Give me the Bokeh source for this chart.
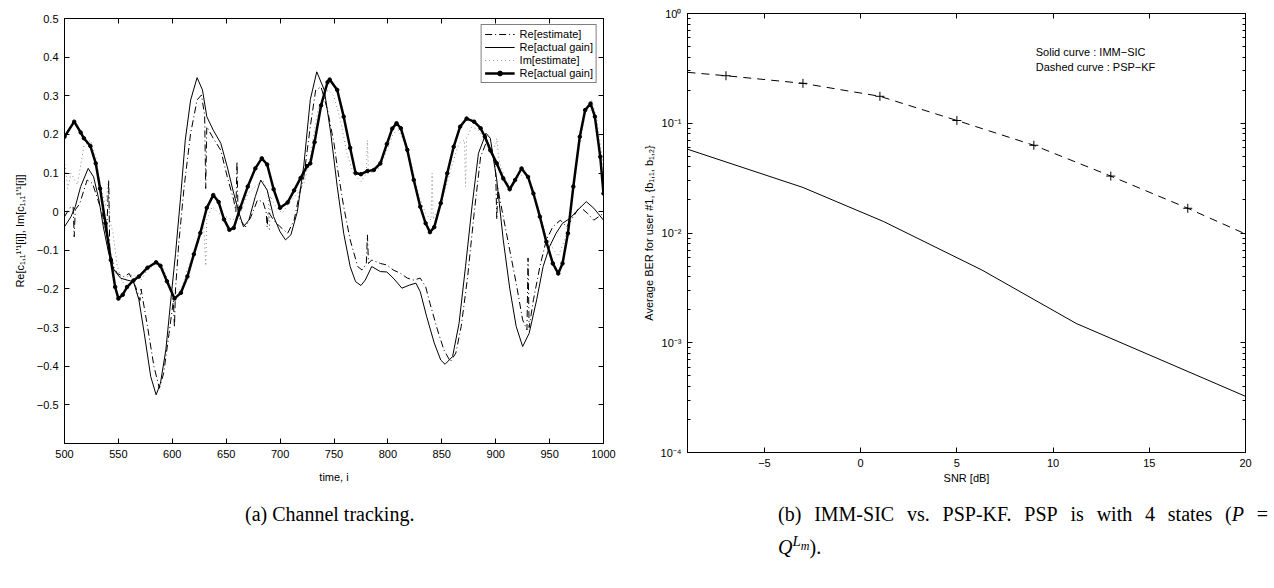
from bokeh.plotting import figure
from bokeh.models import (Range1d, FixedTicker, LinearAxis, LogAxis, CustomJSTickFormatter,
                          Legend, LegendItem, Label, Div)
from bokeh.layouts import row, column
from bokeh.embed import file_html
from bokeh.resources import INLINE

FONT = "Liberation Sans"

# ---------------- data: (a) channel tracking ----------------
re_estimate = [(500,-0.013),(505,0.01),(508,0.013),(509,-0.065),(510,0.005),(514,0.02),(521,0.082),(526,0.073),
    (530,0.039),(535,-0.004),(539,-0.06),(541,0.08),(542,-0.1),(546,-0.145),(549,-0.16),(555,-0.168),(560,-0.16),
    (566,-0.194),(570,-0.23),(571,-0.2),(577,-0.297),(583,-0.401),(588,-0.457),(592,-0.418),(597,-0.315),(601,-0.23),
    (602,-0.3),(603,-0.2),(606,-0.082),(611,0.065),(617,0.203),(623,0.289),(627,0.302),(630,0.25),(631,0.06),(632,0.22),
    (638,0.19),(645,0.159),(651,0.09),(657,0.03),(659,0.0),(660,0.13),(661,0.0),(663,-0.022),(668,-0.039),(673,-0.013),
    (679,0.03),(684,0.026),(687,0.0),(688,-0.04),(689,0.0),(694,-0.022),(700,-0.039),(707,-0.056),(713,-0.022),
    (718,0.047),(722,0.09),(728,0.22),(733,0.315),(738,0.323),(744,0.263),(750,0.177),(753,0.116),(759,0.013),
    (765,-0.073),(772,-0.142),(776,-0.151),(780,-0.134),(781,-0.06),(782,-0.134),(785,-0.125),(793,-0.134),
    (799,-0.138),(805,-0.151),(812,-0.16),(818,-0.172),(824,-0.177),(830,-0.172),(835,-0.194),(839,-0.237),
    (846,-0.306),(852,-0.358),(858,-0.388),(863,-0.366),(868,-0.297),(874,-0.168),(880,-0.004),(886,0.142),
    (892,0.185),(898,0.142),(900,0.1),(901,-0.02),(902,0.06),(907,-0.013),(913,-0.099),(919,-0.185),(925,-0.28),
    (929,-0.306),(930,-0.12),(931,-0.3),(935,-0.228),(941,-0.142),(947,-0.073),(953,-0.039),(960,-0.022),
    (966,-0.039),(972,-0.013),(978,0.013),(985,-0.004),(991,-0.022),(1000,-0.004)]

re_actual = [(500,-0.039),(506,-0.013),(510,0.013),(515,0.065),(522,0.112),(527,0.09),(532,0.03),(536,-0.039),
    (541,-0.108),(546,-0.151),(552,-0.172),(558,-0.177),(564,-0.181),(569,-0.228),(574,-0.315),(580,-0.427),
    (585,-0.474),(589,-0.444),(594,-0.358),(598,-0.246),(603,-0.108),(608,0.047),(612,0.185),(617,0.289),
    (623,0.347),(628,0.315),(632,0.246),(638,0.211),(645,0.177),(651,0.116),(657,0.047),(662,-0.004),(666,-0.039),
    (671,-0.022),(677,0.039),(682,0.082),(688,0.056),(694,-0.013),(700,-0.052),(705,-0.073),(710,-0.06),(716,0.0),
    (722,0.12),(728,0.29),(734,0.362),(741,0.315),(747,0.203),(753,0.065),(759,-0.056),(765,-0.142),(770,-0.181),
    (775,-0.191),(779,-0.177),(785,-0.142),(793,-0.155),(799,-0.156),(805,-0.172),(813,-0.198),(820,-0.19),
    (826,-0.185),(830,-0.207),(836,-0.272),(843,-0.34),(849,-0.384),(853,-0.395),(860,-0.375),(866,-0.289),
    (872,-0.142),(878,0.013),(884,0.151),(891,0.203),(895,0.19),(901,0.082),(907,-0.073),(913,-0.198),
    (919,-0.297),(925,-0.349),(931,-0.315),(938,-0.228),(944,-0.142),(950,-0.09),(956,-0.056),(962,-0.03),
    (969,-0.017),(976,0.004),(984,0.026),(991,0.009),(1000,-0.022)]

im_estimate = [(500,0.134),(503,0.06),(506,0.1),(512,0.07),(518,0.17),(524,0.185),(529,0.142),(533,0.073),
    (538,0.013),(541,0.085),(542,-0.02),(545,-0.056),(549,-0.142),(554,-0.185),(558,-0.168),(564,-0.163),
    (571,-0.177),(577,-0.151),(585,-0.134),(591,-0.142),(597,-0.185),(603,-0.211),(609,-0.194),(615,-0.142),
    (623,-0.09),(629,-0.03),(631,-0.14),(632,-0.02),(637,0.013),(643,-0.004),(650,-0.013),(656,-0.022),
    (663,-0.004),(670,0.047),(677,0.065),(684,0.082),(689,0.047),(690,-0.05),(691,0.04),(696,0.013),(702,-0.004),
    (708,0.022),(716,0.047),(722,0.073),(728,0.142),(735,0.263),(741,0.306),(745,0.315),(750,0.298),(756,0.237),
    (762,0.151),(768,0.099),(775,0.078),(780,0.099),(781,0.185),(782,0.099),(787,0.103),(793,0.116),(799,0.159),
    (805,0.203),(810,0.211),(817,0.168),(823,0.108),(829,0.039),(835,-0.004),(840,-0.022),(841,0.1),(842,-0.02),
    (848,0.013),(854,0.065),(860,0.125),(866,0.177),(871,0.185),(872,0.065),(873,0.19),(878,0.22),(884,0.211),
    (891,0.185),(897,0.168),(900,0.17),(901,0.19),(903,0.134),(909,0.082),(915,0.065),(921,0.09),(927,0.099),
    (934,0.065),(940,0.004),(946,-0.056),(952,-0.09),(958,-0.116),(964,-0.073),(971,0.03),(977,0.159),
    (983,0.254),(989,0.289),(994,0.237),(1000,0.116)]

im_actual = [(500,0.194),(509,0.233),(515,0.205),(518,0.19),(524,0.17),(529,0.125),(533,0.06),(538,-0.03),
    (543,-0.125),(547,-0.195),(550,-0.225),(554,-0.215),(558,-0.195),(564,-0.178),(569,-0.168),(577,-0.145),
    (585,-0.131),(589,-0.14),(595,-0.18),(602,-0.225),(608,-0.21),(614,-0.168),(620,-0.11),(626,-0.055),
    (632,0.01),(638,0.043),(643,0.025),(648,-0.02),(653,-0.047),(657,-0.042),(663,0.01),(670,0.065),(677,0.112),
    (683,0.138),(688,0.122),(694,0.058),(700,0.01),(707,0.024),(713,0.055),(719,0.087),(725,0.118),(728,0.125),
    (732,0.18),(738,0.275),(744,0.335),(746,0.342),(753,0.315),(759,0.246),(765,0.165),(770,0.1),(775,0.097),
    (781,0.105),(787,0.108),(793,0.125),(799,0.175),(804,0.215),(808,0.229),(812,0.216),(818,0.16),(824,0.082),
    (830,0.013),(835,-0.03),(839,-0.053),(843,-0.04),(849,0.022),(855,0.099),(861,0.168),(867,0.22),(873,0.241),
    (880,0.233),(886,0.216),(890,0.194),(895,0.159),(901,0.125),(907,0.086),(913,0.058),(918,0.082),(924,0.112),
    (930,0.09),(935,0.047),(941,-0.013),(947,-0.078),(953,-0.134),(958,-0.16),(962,-0.134),(967,-0.056),
    (972,0.065),(978,0.194),(983,0.263),(988,0.28),(992,0.246),(997,0.142),(1000,0.047)]

a_xticks = [500, 550, 600, 650, 700, 750, 800, 850, 900, 950, 1000]
a_yticks = [-0.5, -0.4, -0.3, -0.2, -0.1, 0.0, 0.1, 0.2, 0.3, 0.4, 0.5]

# ---------------- data: (b) BER vs SNR ----------------
psp_snr = [-9, -7, -3, 1, 5, 9, 13, 17, 20]
psp_ber = [0.291, 0.271, 0.231, 0.176, 0.106, 0.063, 0.033, 0.0168, 0.0098]
psp_mark_snr = [-7, -3, 1, 5, 9, 13, 17]
psp_mark_ber = [0.271, 0.231, 0.176, 0.106, 0.063, 0.033, 0.0168]
imm_snr = [-9, -3, 1.2, 6.3, 11.2, 20]
imm_ber = [0.058, 0.026, 0.0127, 0.0046, 0.0015, 0.000325]
b_xticks = [-5, 0, 5, 10, 15, 20]
b_yticks = [1e-4, 1e-3, 1e-2, 1e-1, 1e0]
b_yminor = [m * d for d in [1e-4, 1e-3, 1e-2, 1e-1] for m in range(2, 10)]


def unzip(pairs):
    return [p[0] for p in pairs], [p[1] for p in pairs]


blank_fmt = CustomJSTickFormatter(code='return "";')


def style_axis(ax, show_labels=True, minor=False):
    ax.axis_line_color = "black"
    ax.axis_line_width = 1
    ax.major_tick_line_color = "black"
    ax.major_tick_in = 5
    ax.major_tick_out = 0
    ax.minor_tick_line_color = "black" if minor else None
    ax.minor_tick_in = 3
    ax.minor_tick_out = 0
    ax.major_label_text_font = FONT
    ax.major_label_text_font_size = "11px" if show_labels else "1px"
    ax.major_label_text_color = "black"
    ax.major_label_standoff = 6 if show_labels else 0
    ax.axis_label_text_font = FONT
    ax.axis_label_text_font_size = "11px"
    ax.axis_label_text_font_style = "normal"
    ax.axis_label_text_color = "black"
    if not show_labels:
        ax.formatter = blank_fmt


fmt_a_y = CustomJSTickFormatter(code="""
if (Math.abs(tick) < 1e-9) { return "0"; }
return tick.toFixed(1).replace("-", "\u2212");
""")
fmt_int = CustomJSTickFormatter(code="""
return Math.round(tick).toString().replace("-", "\u2212");
""")
fmt_log = CustomJSTickFormatter(code="""
const e = Math.round(Math.log10(tick));
const sup = {"-": "\u207b", "0": "\u2070", "1": "\u00b9", "2": "\u00b2", "3": "\u00b3", "4": "\u2074"};
return "10" + String(e).split("").map(c => sup[c]).join("");
""")

# ---------------- figure (a) ----------------
p1 = figure(frame_width=539, frame_height=425, x_range=Range1d(500, 1000), y_range=Range1d(-0.6, 0.5),
            output_backend="svg", toolbar_location=None, title=None,
            min_border_left=64, min_border_right=20, min_border_top=13, min_border_bottom=57)
p1.margin = (5, 0, 0, 0)
p1.grid.visible = False
p1.outline_line_color = "black"
p1.background_fill_color = "white"

xt = FixedTicker(ticks=a_xticks, minor_ticks=[])
yt = FixedTicker(ticks=a_yticks, minor_ticks=[])
p1.xaxis.ticker = xt
p1.yaxis.ticker = yt
p1.xaxis.formatter = fmt_int
p1.yaxis.formatter = fmt_a_y
p1.xaxis.axis_label = "time, i"
p1.yaxis.axis_label = "Re[c₁,₁¹’¹[i]], Im[c₁,₁¹’¹[i]]"
for ax in p1.xaxis + p1.yaxis:
    style_axis(ax)
p1.xaxis.axis_label_standoff = 10
p1.yaxis.axis_label_standoff = 8

top1 = LinearAxis(ticker=xt)
right1 = LinearAxis(ticker=yt)
style_axis(top1, False)
style_axis(right1, False)
p1.add_layout(top1, "above")
p1.add_layout(right1, "right")

x, y = unzip(im_estimate)
r_im = p1.line(x, y, line_color="#8c8c8c", line_width=1, line_dash="1 3")
x, y = unzip(re_estimate)
r_est = p1.line(x, y, line_color="black", line_width=1, line_dash="7 3 1 3")
x, y = unzip(re_actual)
r_act = p1.line(x, y, line_color="black", line_width=1)
x, y = unzip(im_actual)
r_bold = p1.line(x, y, line_color="black", line_width=2.5)
r_bold_m = p1.scatter(x, y, marker="circle", size=3.5, fill_color="black", line_color="black")

legend = Legend(items=[
    LegendItem(label="Re[estimate]", renderers=[r_est]),
    LegendItem(label="Re[actual gain]", renderers=[r_act]),
    LegendItem(label="Im[estimate]", renderers=[r_im]),
    LegendItem(label="Re[actual gain]", renderers=[r_bold, r_bold_m]),
], location="top_right")
legend.label_text_font = FONT
legend.label_text_font_size = "11px"
legend.label_text_color = "black"
legend.label_height = 12
legend.glyph_height = 12
legend.glyph_width = 30
legend.label_standoff = 5
legend.spacing = 1
legend.padding = 3
legend.margin = 6
legend.border_line_color = "black"
legend.border_line_width = 1
legend.background_fill_alpha = 1.0
p1.add_layout(legend)

# ---------------- figure (b) ----------------
p2 = figure(frame_width=558, frame_height=439, x_range=Range1d(-9, 20), y_range=Range1d(1e-4, 1),
            y_axis_type="log", output_backend="svg", toolbar_location=None, title=None,
            min_border_left=64, min_border_right=21, min_border_top=13, min_border_bottom=53)
p2.grid.visible = False
p2.outline_line_color = "black"

bxt = FixedTicker(ticks=b_xticks, minor_ticks=[])
byt = FixedTicker(ticks=b_yticks, minor_ticks=b_yminor)
p2.xaxis.ticker = bxt
p2.yaxis.ticker = byt
p2.xaxis.formatter = fmt_int
p2.yaxis.formatter = fmt_log
p2.xaxis.axis_label = "SNR [dB]"
p2.yaxis.axis_label = "Average BER for user #1, {b₁,₁, b₁,₂}"
for ax in p2.xaxis:
    style_axis(ax)
for ax in p2.yaxis:
    style_axis(ax, True, True)
p2.xaxis.axis_label_standoff = 2
p2.yaxis.axis_label_standoff = 3

top2 = LinearAxis(ticker=bxt)
right2 = LogAxis(ticker=byt)
style_axis(top2, False)
style_axis(right2, False, True)
p2.add_layout(top2, "above")
p2.add_layout(right2, "right")

p2.line(psp_snr, psp_ber, line_color="black", line_width=1, line_dash="8 6")
p2.scatter(psp_mark_snr, psp_mark_ber, marker="cross", size=9, line_color="black", line_width=1)
p2.line(imm_snr, imm_ber, line_color="black", line_width=1)

for txt, yy in [("Solid curve : IMM\u2212SIC", 0.442), ("Dashed curve : PSP\u2212KF", 0.323)]:
    p2.add_layout(Label(x=9.1, y=yy, text=txt, text_font=FONT, text_font_size="11px",
                        text_color="black", text_baseline="middle", text_align="left"))

# ---------------- captions ----------------
cap_style = ("font-family:'Liberation Serif',serif;font-size:20px;color:black;line-height:33px;"
             "margin-top:-7px;")
div_a = Div(width=623, height=80, margin=(0, 0, 0, 0), text=(
    f'<div style="{cap_style}padding-left:245px;white-space:nowrap;">'
    '(a) Channel tracking.</div>'))
div_b = Div(width=643, height=80, margin=(0, 0, 0, 0), text=(
    f'<div style="{cap_style}padding-left:155px;">'
    '<div style="width:490px;white-space:nowrap;display:flex;justify-content:space-between;">'
    '<span>(b)</span><span>IMM-SIC</span><span>vs.</span><span>PSP-KF.</span><span>PSP</span>'
    '<span>is</span><span>with</span><span>4</span><span>states</span><span>(<i>P</i></span><span>=</span></div>'
    '<div><i>Q</i><sup style="font-size:15px;line-height:0;"><i>L<sub style="font-size:12px;line-height:0;">m</sub>'
    '</i></sup>).</div></div>'))

layout = column(row(p1, p2), row(div_a, div_b))
open("out.html", "w").write(file_html(layout, INLINE))
